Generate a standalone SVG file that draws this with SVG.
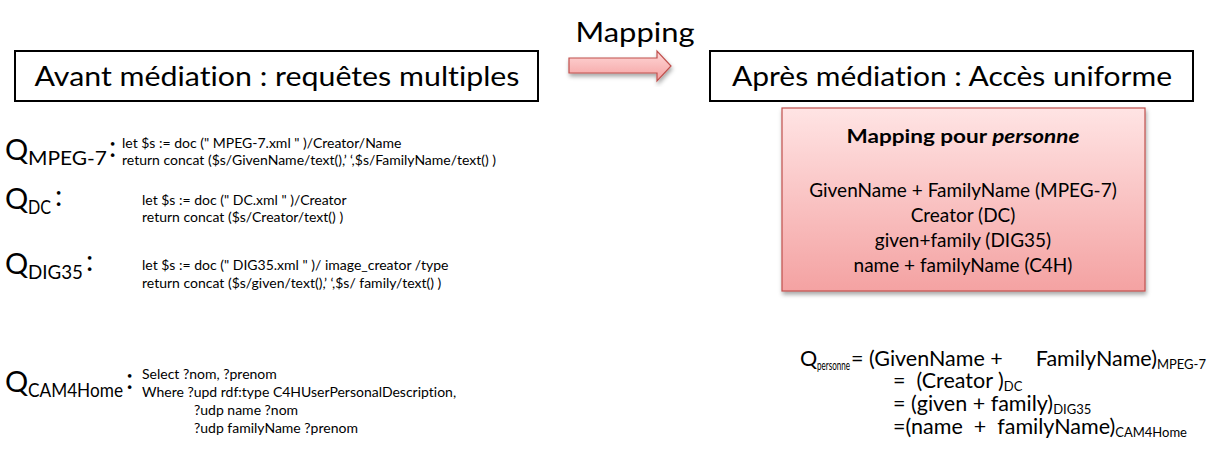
<svg xmlns="http://www.w3.org/2000/svg" width="1215" height="453" viewBox="0 0 1215 453">
<style>
text{font-family:Lato,"Liberation Sans",sans-serif;fill:#000;font-variant-ligatures:none}
.hdr{font-size:27px}
.q{font-size:29px}
.qs{font-size:20px}
.code{font-size:14px}
.map{font-size:19px}
.eq{font-size:21.5px}
.eqs{font-size:13px}
.box{fill:#fff;stroke:#000;stroke-width:2}
</style>
<defs>
<linearGradient id="pk" x1="0" y1="0" x2="0" y2="1">
<stop offset="0" stop-color="#FFE4E4"/>
<stop offset="1" stop-color="#F4A2A2"/>
</linearGradient>
<linearGradient id="pka" x1="0" y1="0" x2="0" y2="1">
<stop offset="0" stop-color="#FFD8D8"/>
<stop offset="1" stop-color="#F4A0A0"/>
</linearGradient>
<filter id="sh" x="-10%" y="-10%" width="120%" height="130%">
<feDropShadow dx="1" dy="3" stdDeviation="2" flood-color="#000" flood-opacity="0.35"/>
</filter>
</defs>

<g id="mapping-label"><text x="635" y="42" class="hdr" text-anchor="middle" textLength="119" lengthAdjust="spacingAndGlyphs">Mapping</text></g>

<g id="avant">
<rect class="box" x="15" y="51" width="523" height="50"/>
<text x="277" y="86" class="hdr" text-anchor="middle" textLength="485" lengthAdjust="spacingAndGlyphs">Avant médiation : requêtes multiples</text>
</g>

<g id="connectors">
<path d="M569,58 H657 V51 L671,66 L657,81 V73 H569 Z" fill="url(#pka)" stroke="#C0504D" stroke-width="1.2" filter="url(#sh)"/>
</g>

<g id="apres">
<rect class="box" x="710" y="51" width="483" height="50"/>
<text x="952" y="86" class="hdr" text-anchor="middle" textLength="440" lengthAdjust="spacingAndGlyphs">Après médiation : Accès uniforme</text>
</g>

<g id="mapping-box">
<rect x="782" y="108" width="363" height="183" fill="url(#pk)" stroke="#C0504D" stroke-width="1.2" filter="url(#sh)"/>
<text x="963" y="143" class="map" font-weight="bold" text-anchor="middle" textLength="233" lengthAdjust="spacingAndGlyphs">Mapping pour <tspan font-style="italic">personne</tspan></text>
<text x="963" y="197" class="map" text-anchor="middle">GivenName + FamilyName (MPEG-7)</text>
<text x="963" y="222" class="map" text-anchor="middle">Creator (DC)</text>
<text x="963" y="247" class="map" text-anchor="middle">given+family (DIG35)</text>
<text x="963" y="272" class="map" text-anchor="middle">name + familyName (C4H)</text>
</g>

<g id="q-mpeg7">
<text x="5" y="160" class="q">Q</text>
<text x="28" y="165" class="qs" textLength="79" lengthAdjust="spacingAndGlyphs">MPEG-7</text>
<text x="109" y="157" class="q">:</text>
<text x="122" y="148" class="code">let $s := doc (" MPEG-7.xml " )/Creator/Name</text>
<text x="122" y="165" class="code">return concat ($s/GivenName/text(),’ ‘,$s/FamilyName/text() )</text>
</g>

<g id="q-dc">
<text x="5" y="209" class="q">Q</text>
<text x="28" y="214" class="qs" textLength="23" lengthAdjust="spacingAndGlyphs">DC</text>
<text x="55" y="206" class="q">:</text>
<text x="142" y="205" class="code">let $s := doc (" DC.xml " )/Creator</text>
<text x="142" y="222" class="code">return concat ($s/Creator/text() )</text>
</g>

<g id="q-dig35">
<text x="5" y="274" class="q">Q</text>
<text x="28" y="279" class="qs" textLength="55" lengthAdjust="spacingAndGlyphs">DIG35</text>
<text x="86" y="271" class="q">:</text>
<text x="142" y="270" class="code">let $s := doc (" DIG35.xml " )/ image_creator /type</text>
<text x="142" y="288" class="code">return concat ($s/given/text(),’ ‘,$s/ family/text() )</text>
</g>

<g id="q-cam4home">
<text x="5" y="392" class="q">Q</text>
<text x="28" y="397" class="qs" textLength="95" lengthAdjust="spacingAndGlyphs">CAM4Home</text>
<text x="126" y="389" class="q">:</text>
<text x="142" y="379" class="code">Select ?nom, ?prenom</text>
<text x="142" y="397" class="code">Where ?upd rdf:type C4HUserPersonalDescription,</text>
<text x="194" y="415" class="code">?udp name ?nom</text>
<text x="194" y="433" class="code">?udp familyName ?prenom</text>
</g>

<g id="q-personne">
<text x="800" y="366" class="eq">Q</text>
<text x="817" y="370" class="eqs" font-size="12" textLength="33" lengthAdjust="spacingAndGlyphs">personne</text>
<text x="851" y="366" class="eq" xml:space="preserve" font-size="22">= (GivenName +      FamilyName)<tspan class="eqs" dy="3">MPEG-7</tspan></text>
<text x="893" y="388" class="eq" xml:space="preserve">=  (Creator )<tspan class="eqs" dy="3">DC</tspan></text>
<text x="893" y="411" class="eq">= (given + family)<tspan class="eqs" dy="3">DIG35</tspan></text>
<text x="893" y="434" class="eq" xml:space="preserve">=(name  +  familyName)<tspan class="eqs" dy="3">CAM4Home</tspan></text>
</g>
</svg>
